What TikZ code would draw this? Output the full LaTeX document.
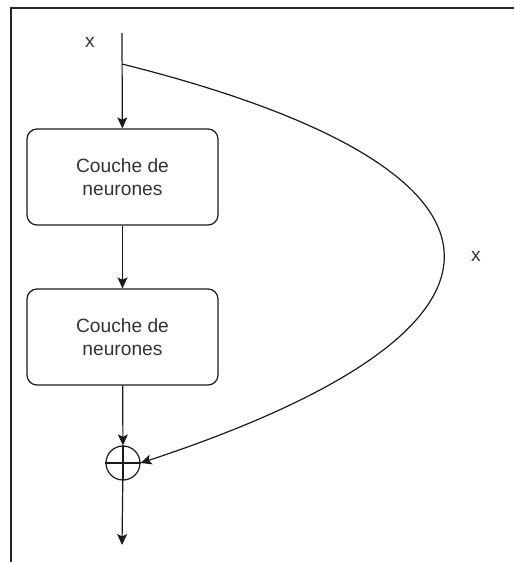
\documentclass[tikz,border=0pt]{standalone}
\usepackage{fontspec}
\setmainfont{Liberation Sans}
\usetikzlibrary{arrows.meta}
\definecolor{trait}{HTML}{1A1A1A}
\definecolor{texte}{HTML}{333333}

\begin{document}
\begin{tikzpicture}[x=0.5pt, y=-0.5pt,
  couche/.style={draw=trait, line width=0.6pt, rounded corners=5pt, minimum width=95.5pt, minimum height=48pt, align=center, inner sep=1pt, text=texte, font=\fontsize{9.6}{11.2}\selectfont},
  somme/.style={draw=trait, line width=0.6pt, circle, minimum size=17pt, inner sep=0pt},
  etiq/.style={text=texte, font=\fontsize{9.6}{11.2}\selectfont},
  fleche/.style={draw=trait, line width=0.6pt, -{Stealth[length=5.5pt, width=5pt, inset=1.2pt]}}]
  \useasboundingbox (0,0) rectangle (514,562);
  % cadre de la capture
  \draw[black!85, line width=0.75pt] (11,562) -- (11,8) -- (514,8);
  \coordinate (entree) at (122,33);
  \coordinate (branche) at (122,64);
  \coordinate (sortie) at (122,545);
  \node[etiq] (xin) at (90,42) {x};
  \node[couche] (c1) at (122.5,177) {Couche de\\neurones};
  \node[couche] (c2) at (122.5,337) {Couche de\\neurones};
  \node[somme] (plus) at (123,463) {};
  \node[etiq] (xbis) at (476,256) {x};
  \draw[trait, line width=0.6pt] (plus.north) -- (plus.south) (plus.west) -- (plus.east);
  % chemin principal
  \draw[fleche] (entree) -- (c1);
  \draw[fleche] (c1) -- (c2);
  \draw[fleche] (c2) -- (plus);
  \draw[fleche] (plus) -- (sortie);
  % connexion residuelle
  \draw[fleche] (branche) .. controls (538,168) and (556,326) .. (plus.east);
\end{tikzpicture}
\end{document}
